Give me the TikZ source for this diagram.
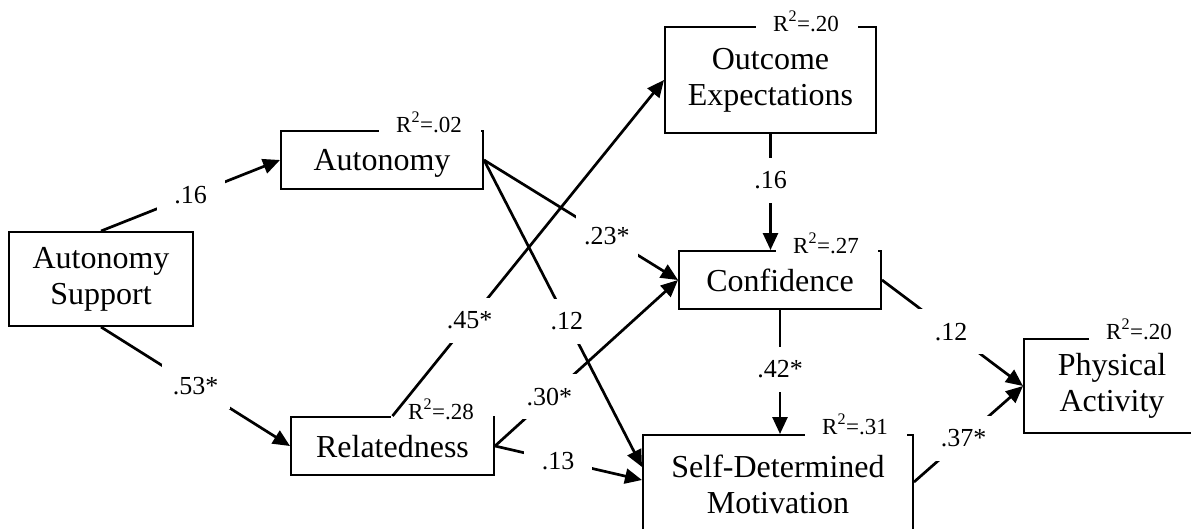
\documentclass[tikz,border=0pt]{standalone}
\usepackage{fontspec}
\setmainfont{Liberation Serif}
\usetikzlibrary{arrows.meta,calc}
\begin{document}
\begin{tikzpicture}[x=1pt,y=-1pt,
  box/.style={draw=black, line width=2pt, inner sep=0pt, align=center,
    font=\fontsize{32}{36}\selectfont},
  r2/.style={fill=white, font=\fontsize{23}{26}\selectfont, text width=68pt,
    inner xsep=17pt, inner ysep=3pt, align=left, anchor=base west},
  arr/.style={line width=2.7pt, -{Triangle[length=17pt,width=15pt]}},
  coef/.style={fill=white, inner sep=0pt, minimum width=68pt, minimum height=45pt,
    font=\fontsize{26}{30}\selectfont}]
\useasboundingbox (0,0) rectangle (1191,528);
% boxes
\node[box, minimum width=184pt, minimum height=94pt] (as) at (101,279) {Autonomy\\Support};
\node[box, minimum width=202pt, minimum height=58pt, text depth=0pt] (aut) at (382,160) {Autonomy};
\node[box, minimum width=203pt, minimum height=58pt, text depth=0pt] (rel) at (392.5,446) {Relatedness};
\node[box, minimum width=211pt, minimum height=106pt] (oe) at (770.5,80) {Outcome\\Expectations};
\node[box, minimum width=202pt, minimum height=58pt, text depth=0pt] (conf) at (780,280) {Confidence};
\node[box, minimum width=270pt, minimum height=98pt] (sdm) at (778,484) {Self-Determined\\Motivation};
\node[box, minimum width=176pt, minimum height=94pt] (pa) at (1112,386) {Physical\\Activity};
% R^2 labels
\node[r2] (r2aut) at ($(aut.north west)+(99,2)$) {R\textsuperscript{2}=.02};
\node[r2] (r2rel) at ($(rel.north west)+(101,3)$) {R\textsuperscript{2}=.28};
\node[r2] (r2oe) at ($(oe.north west)+(92,5)$) {R\textsuperscript{2}=.20};
\node[r2] (r2conf) at ($(conf.north west)+(98,3)$) {R\textsuperscript{2}=.27};
\node[r2] (r2sdm) at ($(sdm.north west)+(163,0)$) {R\textsuperscript{2}=.31};
\node[r2] (r2pa) at ($(pa.north west)+(66,1)$) {R\textsuperscript{2}=.20};
% paths
\draw[arr] (as.north) -- node[coef] {.16} (aut.west);
\draw[arr] (as.south) -- node[coef] {.53*} (rel.west);
\draw[arr] (aut.east) -- node[coef,pos=0.633,minimum width=62pt] {.23*} (conf.west);
\draw[arr] (aut.east) -- node[coef,pos=0.525] {.12} ($(sdm.west)+(0,-17)$);
\draw[arr] (rel.north) -- node[coef,pos=0.284] {.45*} (oe.west);
\draw[arr] (rel.east) -- node[coef,pos=0.297] {.30*} (conf.west);
\draw[arr] (rel.east) -- node[coef,pos=0.43] {.13} ($(sdm.west)+(0,-4)$);
\draw[arr] (oe.south) -- node[coef,pos=0.40] {.16} (oe.south |- conf.north);
\draw[arr] (conf.south) -- node[coef,pos=0.48] {.42*} (conf.south |- sdm.north);
\draw[arr] (conf.east) -- node[coef,pos=0.49] {.12} (pa.west);
\draw[arr] ($(sdm.east)+(0,-2)$) -- node[coef,pos=0.455] {.37*} (pa.west);
\end{tikzpicture}
\end{document}
